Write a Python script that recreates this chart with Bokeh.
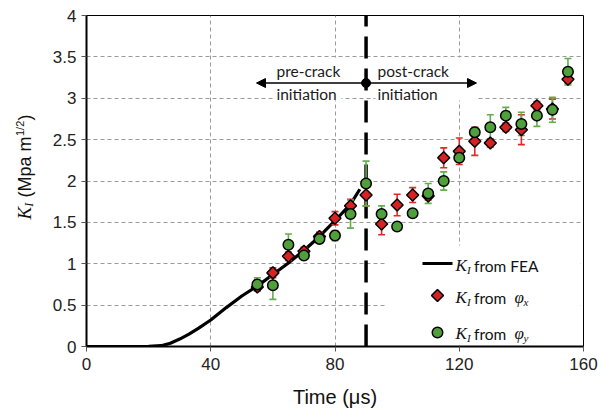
import math
from bokeh.plotting import figure
from bokeh.layouts import row
from bokeh.models import Range1d, FixedTicker, Label, Arrow, NormalHead
from bokeh.embed import file_html
from bokeh.resources import INLINE
from bokeh.core.properties import value

# ---------------- data ----------------
time_us = [55, 60, 65, 70, 75, 80, 85, 90, 95, 100, 105, 110, 115, 120, 125, 130, 135, 140, 145, 150, 155]
k_phi_x = [0.72, 0.89, 1.09, 1.15, 1.33, 1.55, 1.70, 1.83, 1.48, 1.71, 1.83, 1.82, 2.28, 2.36, 2.48, 2.46, 2.65, 2.62, 2.91, 2.87, 3.23]
err_phi_x = [0.05, 0.06, 0.05, 0.05, 0.05, 0.08, 0.08, 0.13, 0.13, 0.13, 0.09, 0.05, 0.12, 0.16, 0.17, 0.05, 0.05, 0.18, 0.05, 0.12, 0.05]
k_phi_y = [0.75, 0.74, 1.23, 1.10, 1.30, 1.34, 1.60, 1.97, 1.60, 1.45, 1.61, 1.85, 2.00, 2.28, 2.59, 2.65, 2.79, 2.69, 2.79, 2.86, 3.32]
err_phi_y = [0.08, 0.17, 0.13, 0.04, 0.04, 0.06, 0.17, 0.27, 0.10, 0.03, 0.03, 0.12, 0.11, 0.05, 0.04, 0.15, 0.10, 0.14, 0.13, 0.15, 0.16]
fea_time = [0, 10, 20, 24, 27, 30, 33, 36, 40, 45, 50, 55, 60, 65, 70, 75, 80, 85, 88]
fea_k = [0, 0, 0.003, 0.01, 0.04, 0.09, 0.15, 0.22, 0.32, 0.47, 0.61, 0.73, 0.87, 1.01, 1.16, 1.33, 1.52, 1.72, 1.90]
crack_time = 90
x_ticks = [0, 40, 80, 120, 160]
y_ticks = [0, 0.5, 1, 1.5, 2, 2.5, 3, 3.5, 4]
y_tick_labels = ["0", "0.5", "1", "1.5", "2", "2.5", "3", "3.5", "4"]

# ---------------- layout ----------------
W, H = 601, 411
LW = 44                      # width of the strip holding the y-axis title
BL, BR, BT, BB = 86, 18, 15, 65
X0, X1, Y0, Y1 = 0, 160, 0, 4
FW, FH = W - BL - BR, H - BT - BB


def dx(px):
    """screen x (pixels from canvas left) -> data x"""
    return X0 + (px - BL) * (X1 - X0) / FW


def dy(py):
    """screen y (pixels from canvas top) -> data y"""
    return Y0 + (H - BB - py) * (Y1 - Y0) / FH


RED = "#d62222"
RED_ERR = "#e02a2a"
GREEN = "#4fa03a"
GREEN_ERR = "#63ad4c"

p = figure(width=W - LW, height=H, x_range=Range1d(X0, X1), y_range=Range1d(Y0, Y1),
           output_backend="svg", toolbar_location=None,
           min_border_left=BL - LW, min_border_right=BR, min_border_top=BT, min_border_bottom=BB)

p.background_fill_color = "white"
p.border_fill_color = "white"
p.outline_line_color = "black"
p.outline_line_width = 1

p.xaxis.ticker = FixedTicker(ticks=x_ticks)
p.yaxis.ticker = FixedTicker(ticks=y_ticks)
p.yaxis.major_label_overrides = {t: s for t, s in zip(y_ticks, y_tick_labels)}
for ax in (p.xaxis[0], p.yaxis[0]):
    ax.axis_line_width = 2
    ax.axis_line_color = "black"
    ax.major_tick_out = 5
    ax.major_tick_in = 0
    ax.major_tick_line_color = "#555555"
    ax.minor_tick_line_color = None
    ax.major_label_text_font = "Liberation Sans"
    ax.major_label_text_font_size = "17px"
    ax.major_label_text_color = "#222222"
p.xaxis.major_label_standoff = 6
p.yaxis.major_label_standoff = 5
p.xaxis.axis_label = "Time (\u03bcs)"
p.xaxis.axis_label_text_font = "Liberation Sans"
p.xaxis.axis_label_text_font_size = "20px"
p.xaxis.axis_label_text_font_style = "normal"
p.xaxis.axis_label_text_color = "#111111"
p.xaxis.axis_label_standoff = 13

p.xgrid.ticker = FixedTicker(ticks=x_ticks)
p.ygrid.ticker = FixedTicker(ticks=y_ticks)
for g in (p.xgrid[0], p.ygrid[0]):
    g.grid_line_color = "#9a9a9a"
    g.grid_line_dash = "4 3"
    g.grid_line_width = 1

# white boxes behind annotation texts and legend (hide gridlines)
p.quad(left=[dx(274), dx(375), dx(385)], right=[dx(341), dx(476), dx(580)],
       bottom=[dy(100), dy(100), dy(345)], top=[dy(57), dy(57), dy(245)],
       fill_color="white", line_color=None)

# FEA curve
p.line(fea_time, fea_k, line_color="black", line_width=3.2)

# crack initiation dashed line
p.line([crack_time, crack_time], [Y0, Y1], line_color="black", line_width=3.5, line_dash="22 10")

# error bars
lo_x = [k - e for k, e in zip(k_phi_x, err_phi_x)]
hi_x = [k + e for k, e in zip(k_phi_x, err_phi_x)]
lo_y = [k - e for k, e in zip(k_phi_y, err_phi_y)]
hi_y = [k + e for k, e in zip(k_phi_y, err_phi_y)]
p.segment(x0=time_us, y0=lo_x, x1=time_us, y1=hi_x, line_color=RED_ERR, line_width=1.6)
p.scatter(time_us + time_us, lo_x + hi_x, marker="dash", size=7, line_color=RED_ERR, line_width=1.6)
p.segment(x0=time_us, y0=lo_y, x1=time_us, y1=hi_y, line_color=GREEN_ERR, line_width=1.6)
p.scatter(time_us + time_us, lo_y + hi_y, marker="dash", size=7, line_color=GREEN_ERR, line_width=1.6)

# markers
p.scatter(time_us, k_phi_x, marker="square", angle=math.pi / 4, size=8.5,
          fill_color=RED, line_color="black", line_width=1.5)
p.scatter(time_us, k_phi_y, marker="circle", size=10.5,
          fill_color=GREEN, line_color="black", line_width=1.5)

# arrows
arrow_y = dy(82.5)
p.add_layout(Arrow(x_start=crack_time, y_start=arrow_y, x_end=dx(256), y_end=arrow_y,
                   line_color="black", line_width=1.5,
                   end=NormalHead(size=9, fill_color="black", line_color="black")))
p.add_layout(Arrow(x_start=crack_time, y_start=arrow_y, x_end=dx(476), y_end=arrow_y,
                   line_color="black", line_width=1.5,
                   end=NormalHead(size=9, fill_color="black", line_color="black")))
p.scatter([crack_time], [arrow_y], marker="circle", size=9, fill_color="black", line_color="black")

# annotation texts
ann = dict(text_font=value("Lato"), text_font_size="15.5px", text_color="#1a1a1a",
           text_baseline="middle", text_align="left")
p.text(x=[dx(276), dx(276), dx(377), dx(377)], y=[dy(70), dy(93), dy(70), dy(93)],
       text=["pre-crack", "initiation", "post-crack", "initiation"], **ann)

# legend (manual)
p.line([dx(422), dx(452)], [dy(263), dy(263)], line_color="black", line_width=3.2)
p.scatter([dx(437)], [dy(295)], marker="square", angle=math.pi / 4, size=8.5,
          fill_color=RED, line_color="black", line_width=1.5)
p.scatter([dx(437)], [dy(332)], marker="circle", size=10.5,
          fill_color=GREEN, line_color="black", line_width=1.5)

serif_it = dict(text_font="Liberation Serif", text_font_style="italic", text_color="#111111",
                text_baseline="middle", text_align="left")
sans = dict(text_font="Lato", text_color="#111111", text_baseline="middle", text_align="left")
for row_y in (265, 297, 333):
    p.add_layout(Label(x=dx(455), y=dy(row_y), text="K", text_font_size="17px", **serif_it))
    p.add_layout(Label(x=dx(466.5), y=dy(row_y + 4), text="I", text_font_size="11px", **serif_it))
p.add_layout(Label(x=dx(473.5), y=dy(265), text="from FEA", text_font_size="15.5px", **sans))
p.add_layout(Label(x=dx(473.5), y=dy(297), text="from", text_font_size="15.5px", **sans))
p.add_layout(Label(x=dx(473.5), y=dy(333), text="from", text_font_size="15.5px", **sans))
p.add_layout(Label(x=dx(514), y=dy(297), text="\u03c6", text_font_size="17px", **serif_it))
p.add_layout(Label(x=dx(523), y=dy(301), text="x", text_font_size="11px", **serif_it))
p.add_layout(Label(x=dx(514), y=dy(333), text="\u03c6", text_font_size="17px", **serif_it))
p.add_layout(Label(x=dx(523), y=dy(337), text="y", text_font_size="11px", **serif_it))

# ---------------- y-axis title strip ----------------
# the row aligns this strip's frame with the main frame, so it shares the main y scale
t = figure(width=LW, height=H, x_range=Range1d(0, LW), y_range=p.y_range,
           output_backend="svg", toolbar_location=None, min_border=0,
           x_axis_location=None, y_axis_location=None)
t.grid.visible = False
t.outline_line_color = None
t.background_fill_color = "white"
t.border_fill_color = "white"

rot = dict(angle=math.pi / 2, text_baseline="middle", text_align="left", text_color="#111111")
t.add_layout(Label(x=24, y=dy(219), text="K", text_font="Liberation Serif",
                   text_font_style="italic", text_font_size="19px", **rot))
t.add_layout(Label(x=28.5, y=dy(206.3), text="I", text_font="Liberation Serif",
                   text_font_style="italic", text_font_size="12px", **rot))
t.add_layout(Label(x=24, y=dy(197), text="(Mpa m", text_font="Liberation Sans",
                   text_font_size="18px", **rot))
t.add_layout(Label(x=19, y=dy(135.5), text="1/2", text_font="Liberation Sans",
                   text_font_size="11px", **rot))
t.add_layout(Label(x=24, y=dy(120), text=")", text_font="Liberation Sans",
                   text_font_size="18px", **rot))

layout = row(t, p, spacing=0)
open("out.html", "w").write(file_html(layout, INLINE))
